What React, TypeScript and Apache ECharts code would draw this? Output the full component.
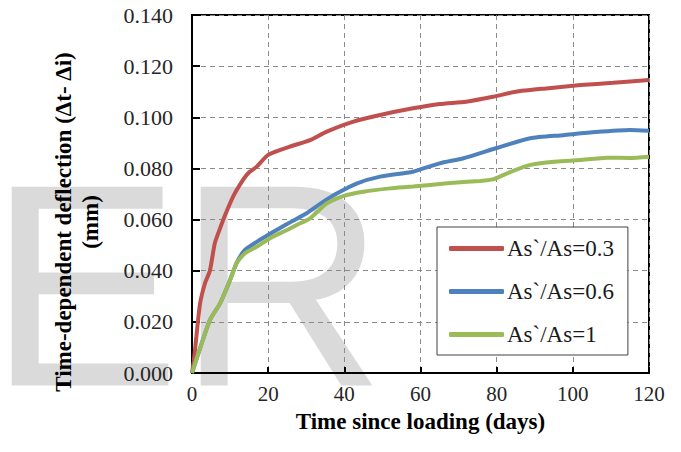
import React, { useEffect, useRef } from "react";
import * as echarts from "echarts";

const seriesNames = ["As`/As=0.3", "As`/As=0.6", "As`/As=1"];
const seriesColors = ["#C0504D", "#4F81BD", "#9BBB59"];

const redDays = [0, 0.5, 1.2, 2.1, 3.4, 4.7, 6, 7.4, 8.7, 10.8, 13.4, 15, 17, 20, 25.7, 31, 35.4, 42.4, 49.4, 58, 65, 72, 79, 85, 93, 102, 110.6, 120];
const redValues = [0, 0.005, 0.015, 0.027, 0.035, 0.04, 0.0508, 0.0567, 0.0618, 0.069, 0.0755, 0.0785, 0.0807, 0.0853, 0.0885, 0.0911, 0.0944, 0.0983, 0.1009, 0.1035, 0.1052, 0.1061, 0.108, 0.11, 0.1113, 0.1126, 0.1135, 0.1146];

const blueDays = [0, 4.7, 7.4, 10, 11.7, 13.9, 17, 22.2, 26.1, 30, 34.5, 38, 43.2, 49.4, 58, 65, 71.3, 80, 88.8, 97.5, 106, 115, 120];
const blueValues = [0, 0.0207, 0.0273, 0.0364, 0.043, 0.0481, 0.0513, 0.0559, 0.0592, 0.0624, 0.067, 0.0702, 0.0741, 0.0768, 0.0787, 0.082, 0.084, 0.088, 0.0918, 0.093, 0.0942, 0.095, 0.0947];

const greenDays = [0, 4.7, 7.4, 10, 11.7, 13.9, 17, 20.5, 24.9, 27.5, 31, 35.4, 39.7, 45, 52, 58, 67, 75.6, 79, 82.6, 87.9, 93, 101.9, 109, 115, 120];
const greenValues = [0, 0.0207, 0.0273, 0.0364, 0.0429, 0.0468, 0.0494, 0.0527, 0.0559, 0.0579, 0.0605, 0.0663, 0.0692, 0.0709, 0.0722, 0.0729, 0.0742, 0.0751, 0.0757, 0.078, 0.081, 0.0823, 0.0833, 0.0842, 0.0841, 0.0846];

const xTitle = "Time since loading (days)";
const yTitleLine1 = "Time-dependent deflection (\u0394t- \u0394i)";
const yTitleLine2 = "(mm)";
const watermark = ["E", "R"];

const pair = (xs: number[], ys: number[]) => xs.map((x, i) => [x, ys[i]]);

const SERIF = "Liberation Serif";
const SANS = "Liberation Sans";

export default function App() {
  const ref = useRef<HTMLDivElement>(null);
  useEffect(() => {
    if (!ref.current) return;
    const chart = echarts.init(ref.current, undefined, { renderer: "svg" });
    const allData = [pair(redDays, redValues), pair(blueDays, blueValues), pair(greenDays, greenValues)];
    chart.setOption({
      animation: false,
      backgroundColor: "#ffffff",
      textStyle: { fontFamily: SERIF },
      grid: {
        left: 192,
        right: 32,
        top: 15,
        bottom: 79,
        show: true,
        borderColor: "#000",
        borderWidth: 2,
        backgroundColor: "transparent",
      },
      xAxis: {
        type: "value",
        min: 0,
        max: 120,
        interval: 20,
        name: xTitle,
        nameLocation: "middle",
        nameGap: 37,
        nameTextStyle: { fontFamily: SERIF, fontSize: 23, fontWeight: "bold", color: "#000" },
        axisLine: { show: true, lineStyle: { color: "#000", width: 2 } },
        axisTick: { show: true, inside: true, length: 6, lineStyle: { color: "#000", width: 2 } },
        axisLabel: { fontFamily: SERIF, fontSize: 21, color: "#262626", margin: 10 },
        splitLine: { show: true, lineStyle: { color: "#8a8a8a", width: 1, type: [5, 4] } },
      },
      yAxis: {
        type: "value",
        min: 0,
        max: 0.14,
        interval: 0.02,
        axisLine: { show: true, lineStyle: { color: "#000", width: 2 } },
        axisTick: { show: true, inside: true, length: 8, lineStyle: { color: "#000", width: 2 } },
        axisLabel: {
          fontFamily: SERIF,
          fontSize: 22,
          color: "#262626",
          margin: 19,
          formatter: (v: number) => v.toFixed(3),
        },
        splitLine: { show: true, lineStyle: { color: "#8a8a8a", width: 1, type: [5, 4] } },
      },
      legend: {
        orient: "vertical",
        left: 437,
        top: 227,
        padding: [10, 14, 9, 12],
        itemGap: 20,
        itemWidth: 55,
        itemHeight: 5,
        icon: "roundRect",
        textStyle: { fontFamily: SERIF, fontSize: 23, color: "#1a1a1a", padding: [0, 0, 0, -2] },
        backgroundColor: "#fff",
        borderColor: "#404040",
        borderWidth: 1,
        borderRadius: 0,
        data: seriesNames,
      },
      graphic: [
        {
          type: "text",
          z: -10,
          x: -12,
          y: 285,
          silent: true,
          style: {
            text: watermark[0],
            fontFamily: SANS,
            fontSize: 289,
            fill: "#dadada",
            textAlign: "left",
            textVerticalAlign: "middle",
          },
        },
        {
          type: "text",
          z: -10,
          x: 177,
          y: 285,
          silent: true,
          style: {
            text: watermark[1],
            fontFamily: SANS,
            fontSize: 289,
            fill: "#dadada",
            textAlign: "left",
            textVerticalAlign: "middle",
          },
        },
        {
          type: "text",
          z: 10,
          x: 63,
          y: 222,
          rotation: Math.PI / 2,
          style: {
            text: yTitleLine1,
            fontFamily: SERIF,
            fontSize: 23,
            fontWeight: "bold",
            fill: "#000",
            textAlign: "center",
            textVerticalAlign: "middle",
          },
        },
        {
          type: "text",
          z: 10,
          x: 90,
          y: 222,
          rotation: Math.PI / 2,
          style: {
            text: yTitleLine2,
            fontFamily: SERIF,
            fontSize: 23,
            fontWeight: "bold",
            fill: "#000",
            textAlign: "center",
            textVerticalAlign: "middle",
          },
        },
      ],
      series: seriesNames.map((name, i) => ({
        name,
        type: "line",
        data: allData[i],
        showSymbol: false,
        symbol: "none",
        smooth: 0.2,
        z: 3 + i,
        color: seriesColors[i],
        lineStyle: { color: seriesColors[i], width: 4 },
      })),
    });
    return () => chart.dispose();
  }, []);
  return <div ref={ref} style={{ width: 681, height: 452, position: "absolute", left: 0, top: 0 }} />;
}
